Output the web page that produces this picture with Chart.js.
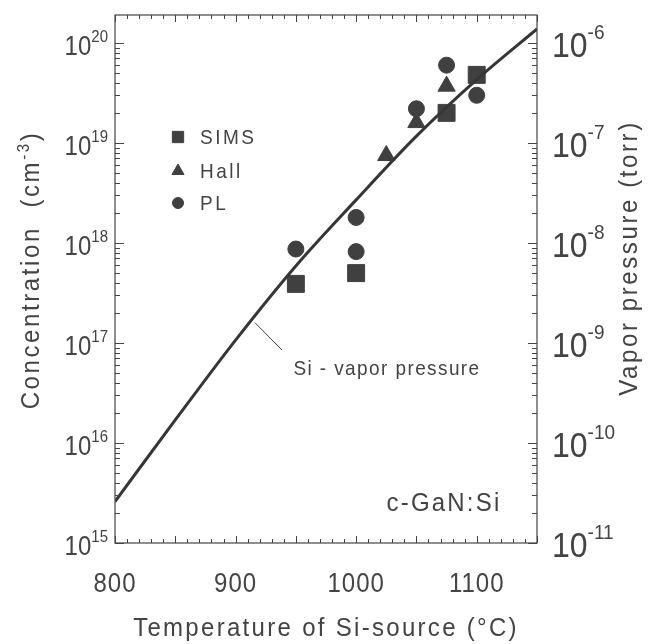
<!DOCTYPE html>
<html>
<head>
<meta charset="utf-8">
<script src="https://cdn.jsdelivr.net/npm/chart.js@4/dist/chart.umd.min.js"></script>
<style>
  html, body { margin: 0; background: #fff; }
</style>
</head>
<body>
<canvas id="chart" width="660" height="644"></canvas>
<script>
// Si vapor pressure curve (torr), right axis
const curveTemps = [800, 850, 900, 950, 1000, 1050, 1100, 1150];
const vaporPressure = [2.6e-11, 1.7e-10, 1.07e-9, 5.9e-9, 2.7e-8, 1.17e-7, 4.3e-7, 1.38e-6];

// measured concentrations (cm^-3), left axis
const simsTemps = [950, 1000, 1075, 1100];
const simsConc = [3.9e17, 5.0e17, 2.0e19, 4.8e19];
const hallTemps = [1025, 1050, 1075];
const hallConc = [7.5e18, 1.6e19, 3.7e19];
const plTemps = [950, 1000, 1000, 1050, 1075, 1100];
const plConc = [8.7e17, 8.2e17, 1.8e18, 2.2e19, 6.0e19, 3.0e19];

// tick labels
const xTickLabels = [800, 900, 1000, 1100];
const concExponents = [15, 16, 17, 18, 19, 20];
const vaporExponents = [-11, -10, -9, -8, -7, -6];

const ink = "#444";
const fontFam = '"Liberation Sans", Arial, sans-serif';

const pts = (xs, ys) => xs.map((t, i) => ({ x: t, y: ys[i] }));

// text in pieces (for superscripts), optionally stretched / rotated
function rich(ctx, segs, x, y, align, opt) {
    opt = opt || {};
    ctx.save();
    ctx.translate(x, y);
    if (opt.rot) ctx.rotate(opt.rot);
    ctx.scale(1, opt.sy || 1);
    ctx.fillStyle = ink;
    ctx.textAlign = "left";
    ctx.textBaseline = "alphabetic";
    ctx.letterSpacing = (opt.ls || 0) + "px";
    let w = 0;
    for (const g of segs) {
        ctx.font = g.s + "px " + fontFam;
        g.w = ctx.measureText(g.t).width;
        w += g.w;
    }
    let px = align === "center" ? -w / 2 : align === "right" ? -w : 0;
    for (const g of segs) {
        ctx.font = g.s + "px " + fontFam;
        ctx.fillText(g.t, px, g.dy || 0);
        px += g.w;
    }
    ctx.restore();
}

const decor = {
    id: "decor",
    afterDraw(chart) {
        const { ctx, chartArea: a, scales } = chart;
        const x = scales.x, y = scales.y, y2 = scales.y2;
        ctx.save();
        ctx.strokeStyle = "#444";
        ctx.lineWidth = 1.2;
        ctx.strokeRect(a.left, a.top, a.right - a.left, a.bottom - a.top);

        const seg = (x1, y1, x2, y2_) => {
            ctx.beginPath();
            ctx.moveTo(x1, y1);
            ctx.lineTo(x2, y2_);
            ctx.stroke();
        };

        // x ticks, top and bottom, pointing in
        ctx.lineWidth = 1;
        for (let t = 800; t <= 1150; t += 10) {
            const px = Math.round(x.getPixelForValue(t)) + 0.5;
            const len = t % 50 === 0 ? 7 : 4;
            seg(px, a.bottom, px, a.bottom - len);
            seg(px, a.top, px, a.top + len);
        }
        // log ticks left (concentration) and right (vapor pressure)
        for (let e = 15; e <= 20; e++) {
            for (let m = 1; m <= 9; m++) {
                const v = m * Math.pow(10, e);
                if (v > y.max) break;
                const py = Math.round(y.getPixelForValue(v)) + 0.5;
                seg(a.left, py, a.left + (m === 1 ? 9 : 5), py);
            }
        }
        for (let e = -11; e <= -6; e++) {
            for (let m = 1; m <= 9; m++) {
                const v = m * Math.pow(10, e);
                if (v > y2.max) break;
                const py = Math.round(y2.getPixelForValue(v)) + 0.5;
                seg(a.right, py, a.right - (m === 1 ? 9 : 5), py);
            }
        }

        // tick labels
        xTickLabels.forEach(t => {
            rich(ctx, [{ t: String(t), s: 24 }], x.getPixelForValue(t), 592, "center", { sy: 1.15, ls: 1 });
        });
        concExponents.forEach(e => {
            const py = y.getPixelForValue(Math.pow(10, e));
            rich(ctx, [{ t: "10", s: 24 }, { t: String(e), s: 15, dy: -12 }], 108, py + 12, "right", { sy: 1.12 });
        });
        vaporExponents.forEach(e => {
            const py = y2.getPixelForValue(Math.pow(10, e));
            rich(ctx, [{ t: "10", s: 32 }, { t: String(e), s: 19, dy: -16 }], 552, py + 14, "left", { sy: 1.1 });
        });

        // axis titles
        rich(ctx, [{ t: "Temperature of Si-source (°C)", s: 24 }], 326, 636, "center", { sy: 1.08, ls: 2.3 });
        rich(ctx, [{ t: "Concentration  (cm", s: 24 }, { t: "-3", s: 15, dy: -9 }, { t: ")", s: 24 }],
            39, 270, "center", { rot: -Math.PI / 2, sy: 1.08, ls: 2.6 });
        rich(ctx, [{ t: "Vapor pressure (torr)", s: 24 }], 637, 258, "center", { rot: -Math.PI / 2, sy: 1.08, ls: 2.6 });

        // legend
        const legend = [
            ["SIMS", "rect", 8, 137],
            ["Hall", "triangle", 7, 171],
            ["PL", "circle", 5.5, 203],
        ];
        ctx.fillStyle = "#404040";
        ctx.strokeStyle = "#404040";
        legend.forEach(([label, style, r, ly]) => {
            Chart.helpers.drawPoint(ctx, { pointStyle: style, radius: r, rotation: 0, borderWidth: 1 }, 178, ly);
            ctx.fillStyle = "#404040";
            rich(ctx, [{ t: label, s: 19 }], 200, ly + 7, "left", { sy: 1.1, ls: 2.5 });
        });

        // curve annotation
        ctx.strokeStyle = ink;
        ctx.lineWidth = 1;
        seg(x.getPixelForValue(916), y.getPixelForValue(1.6e17), x.getPixelForValue(938.5), y.getPixelForValue(8.5e16));
        rich(ctx, [{ t: "Si - vapor pressure", s: 19 }], x.getPixelForValue(948), y.getPixelForValue(5.6e16) + 7, "left", { sy: 1.1, ls: 1.4 });

        // sample label
        rich(ctx, [{ t: "c-GaN:Si", s: 24 }], 444, y.getPixelForValue(2.6e15) + 9, "center", { sy: 1.1, ls: 2.2 });
        ctx.restore();
    },
};

new Chart(document.getElementById("chart"), {
    type: "scatter",
    data: {
        datasets: [
            {
                type: "line",
                label: "Si - vapor pressure",
                data: pts(curveTemps, vaporPressure),
                yAxisID: "y2",
                borderColor: "#363636",
                borderWidth: 3,
                pointRadius: 0,
                cubicInterpolationMode: "monotone",
                fill: false,
            },
            {
                label: "SIMS",
                data: pts(simsTemps, simsConc),
                pointStyle: "rect",
                pointRadius: 12,
                backgroundColor: "#404040",
                borderColor: "#404040",
            },
            {
                label: "Hall",
                data: pts(hallTemps, hallConc),
                pointStyle: "triangle",
                pointRadius: 10,
                backgroundColor: "#404040",
                borderColor: "#404040",
            },
            {
                label: "PL",
                data: pts(plTemps, plConc),
                pointStyle: "circle",
                pointRadius: 8,
                backgroundColor: "#404040",
                borderColor: "#404040",
            },
        ],
    },
    options: {
        responsive: false,
        animation: false,
        devicePixelRatio: 1,
        layout: { padding: { left: 115, right: 123, top: 15, bottom: 101 } },
        plugins: {
            legend: { display: false },
            tooltip: { enabled: false },
        },
        scales: {
            x: { type: "linear", min: 800, max: 1150, display: false },
            y: { type: "logarithmic", min: 1e15, max: 1.905e20, display: false },
            y2: { type: "logarithmic", min: 1e-11, max: 1.905e-6, display: false },
        },
    },
    plugins: [decor],
});
</script>
</body>
</html>
